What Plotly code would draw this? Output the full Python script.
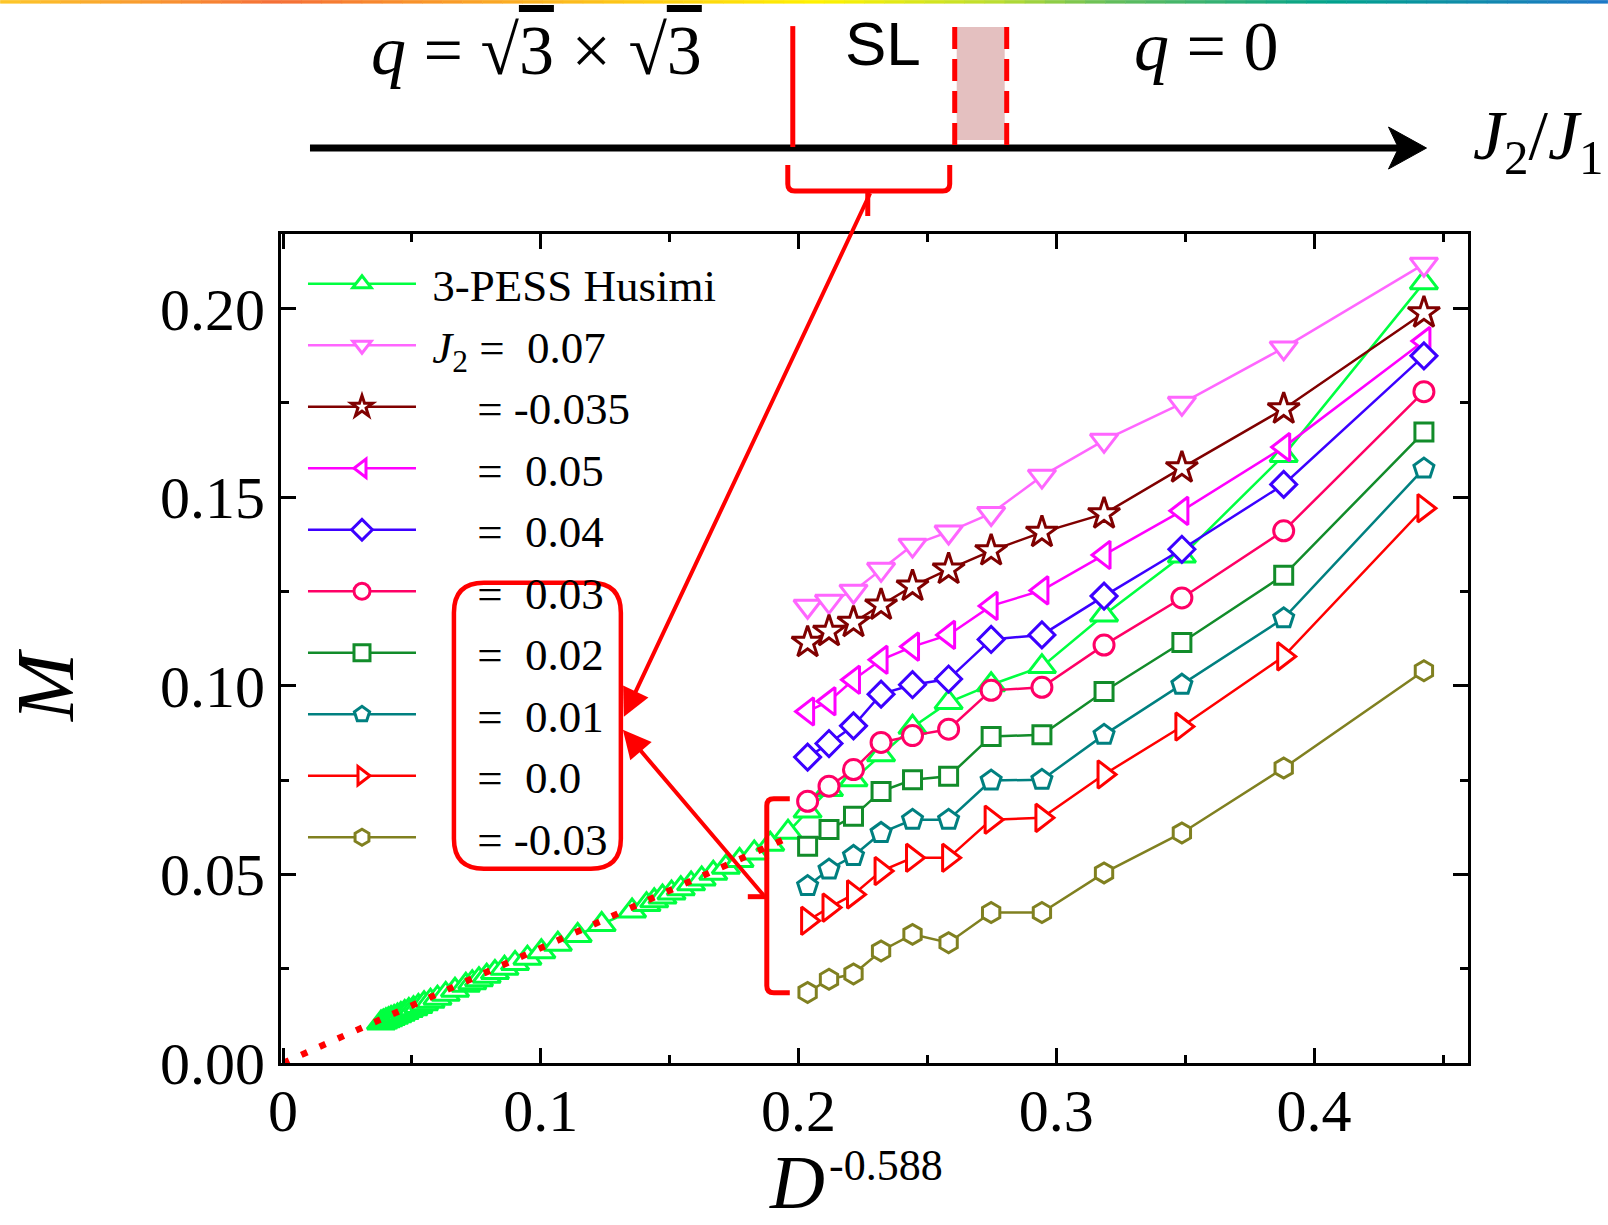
import plotly.graph_objects as go

# ---------------- data ----------------
x_right = [0.2035, 0.2118, 0.2213, 0.2320, 0.2442, 0.2582, 0.2747, 0.2944,
           0.3185, 0.3487, 0.3882, 0.4426]

x_husimi_left = [0.0380, 0.0389, 0.0399, 0.0409, 0.0419, 0.0431, 0.0444, 0.0457,
                 0.0472, 0.0488, 0.0506, 0.0525, 0.0547, 0.0572, 0.0599, 0.0631,
                 0.0667, 0.0709, 0.0734, 0.0760, 0.0790, 0.0822, 0.0859, 0.0900,
                 0.0948, 0.1002, 0.1066, 0.1143, 0.1236, 0.1354, 0.1410, 0.1440,
                 0.1472, 0.1507, 0.1543, 0.1583, 0.1624, 0.1669, 0.1718, 0.1771,
                 0.1828, 0.1890, 0.1959]
m_husimi_left = [0.0106, 0.0109, 0.0112, 0.0115, 0.0118, 0.0121, 0.0125, 0.0129,
                 0.0134, 0.0139, 0.0144, 0.0150, 0.0157, 0.0164, 0.0172, 0.0182,
                 0.0193, 0.0206, 0.0213, 0.0221, 0.0230, 0.0240, 0.0251, 0.0264,
                 0.0278, 0.0295, 0.0315, 0.0338, 0.0367, 0.0403, 0.0420, 0.0430,
                 0.0440, 0.0451, 0.0462, 0.0475, 0.0488, 0.0503, 0.0519, 0.0537,
                 0.0557, 0.0580, 0.0612]
m_husimi_right = [0.0668, 0.0725, 0.0751, 0.0817, 0.0890, 0.0956, 0.1003, 0.1051,
                  0.1188, 0.1344, 0.1611, 0.2069]

m_j2_p070 = [0.1211, 0.1224, 0.1251, 0.1309, 0.1373, 0.1408, 0.1457, 0.1556,
             0.1651, 0.1749, 0.1896, 0.2118]
m_j2_m035 = [0.1115, 0.1144, 0.1168, 0.1214, 0.1264, 0.1309, 0.1358, 0.1407,
             0.1456, 0.1578, 0.1734, 0.1989]
m_j2_p050 = [0.0932, 0.0959, 0.1016, 0.1069, 0.1104, 0.1135, 0.1212, 0.1253,
             0.1347, 0.1464, 0.1633, 0.1914]
m_j2_p040 = [0.0811, 0.0847, 0.0894, 0.0978, 0.1003, 0.1018, 0.1123, 0.1135,
             0.1238, 0.1362, 0.1534, 0.1875]
m_j2_p030 = [0.0694, 0.0734, 0.0778, 0.0850, 0.0868, 0.0885, 0.0988, 0.0996,
             0.1108, 0.1233, 0.1411, 0.1780]
m_j2_p020 = [0.0575, 0.0619, 0.0654, 0.0720, 0.0751, 0.0760, 0.0866, 0.0870,
             0.0985, 0.1115, 0.1293, 0.1673]
m_j2_p010 = [0.0469, 0.0513, 0.0549, 0.0610, 0.0645, 0.0645, 0.0749, 0.0751,
             0.0870, 0.1003, 0.1179, 0.1576]
m_j2_p000 = [0.0377, 0.0412, 0.0447, 0.0509, 0.0544, 0.0544, 0.0645, 0.0650,
             0.0765, 0.0892, 0.1078, 0.1471]
m_j2_m030 = [0.0187, 0.0222, 0.0236, 0.0297, 0.0341, 0.0319, 0.0399, 0.0399,
             0.0504, 0.0610, 0.0782, 0.1040]

fit_x = [0.0, 0.198]
fit_m = [0.0, 0.0604]

x_tick_vals = [0, 0.1, 0.2, 0.3, 0.4]
x_tick_text = ["0", "0.1", "0.2", "0.3", "0.4"]
y_tick_vals = [0.0, 0.05, 0.10, 0.15, 0.20]
y_tick_text = ["0.00", "0.05", "0.10", "0.15", "0.20"]

NB = "\u00a0"
series_names = [
    NB + "3-PESS Husimi",
    NB + "<i>J</i><sub>2</sub>" + NB + "=" + NB * 2 + "0.07",
    NB * 5 + "=" + NB + "-0.035",
    NB * 5 + "=" + NB * 2 + "0.05",
    NB * 5 + "=" + NB * 2 + "0.04",
    NB * 5 + "=" + NB * 2 + "0.03",
    NB * 5 + "=" + NB * 2 + "0.02",
    NB * 5 + "=" + NB * 2 + "0.01",
    NB * 5 + "=" + NB * 2 + "0.0",
    NB * 5 + "=" + NB + "-0.03",
]

# ---------------- figure ----------------
SERIF = "Liberation Serif"
PL, PR, PT, PB = 281.0, 1468.5, 234.0, 1063.4


def px(x):
    return (x - PL) / (PR - PL)


def py(y):
    return (PB - y) / (PB - PT)


def P(x, y):
    return f"{px(x):.5f},{py(y):.5f}"


fig = go.Figure()

specs = [
    (x_husimi_left + x_right, m_husimi_left + m_husimi_right, "#00FF40", "triangle-up", 24),
    (x_right, m_j2_p070, "#FF66FF", "triangle-down", 24),
    (x_right, m_j2_m035, "#800000", "star", 24),
    (x_right, m_j2_p050, "#FF00FF", "triangle-left", 24),
    (x_right, m_j2_p040, "#3C00FF", "diamond", 20),
    (x_right, m_j2_p030, "#FF0066", "circle", 20),
    (x_right, m_j2_p020, "#128C2A", "square", 18),
    (x_right, m_j2_p010, "#008080", "pentagon", 21),
    (x_right, m_j2_p000, "#FF0000", "triangle-right", 24),
    (x_right, m_j2_m030, "#808020", "hexagon", 20),
]

for (xs, ys, col, sym, size), name in zip(specs, series_names):
    fig.add_trace(go.Scatter(
        x=xs, y=ys, name=name, mode="lines+markers",
        line=dict(color=col, width=2.5),
        marker=dict(symbol=sym, size=size, color="white",
                    line=dict(color=col, width=3)),
    ))

fig.add_trace(go.Scatter(
    x=fit_x, y=fit_m, mode="lines", showlegend=False,
    line=dict(color="#FF0000", width=6.5, dash="6.5px,13.5px"),
))

axis_common = dict(
    showline=True, linewidth=3, linecolor="black", mirror="ticks",
    ticks="inside", ticklen=15, tickwidth=2.5, tickcolor="black",
    showgrid=False, zeroline=False,
    tickfont=dict(family=SERIF, size=60, color="black"),
)

fig.update_xaxes(range=[-0.0008, 0.4597], tickmode="array",
                 tickvals=x_tick_vals, ticktext=x_tick_text,
                 minor=dict(ticks="inside", ticklen=8, tickwidth=2.5,
                            tickcolor="black", tickmode="linear", tick0=0, dtick=0.05),
                 ticklabelstandoff=-7, **axis_common)
fig.update_yaxes(range=[0, 0.2198], tickmode="array",
                 tickvals=y_tick_vals, ticktext=y_tick_text,
                 minor=dict(ticks="inside", ticklen=8, tickwidth=2.5,
                            tickcolor="black", tickmode="linear", tick0=0, dtick=0.025),
                 ticklabelstandoff=1, **axis_common)

shapes = []
annotations = []

# rainbow strip at the very top
stops = [(0, (253, 200, 40)), (277, (245, 110, 55)), (560, (252, 185, 30)),
         (820, (255, 242, 0)), (1000, (185, 220, 50)), (1110, (100, 190, 90)),
         (1330, (0, 162, 140)), (1608, (30, 118, 200))]
nseg = 80
for i in range(nseg):
    xa = 1608 * i / nseg
    xb = 1608 * (i + 1) / nseg
    xm = 0.5 * (xa + xb)
    for (s0, c0), (s1, c1) in zip(stops[:-1], stops[1:]):
        if s0 <= xm <= s1:
            t = (xm - s0) / (s1 - s0)
            c = tuple(int(round(c0[k] + t * (c1[k] - c0[k]))) for k in range(3))
            break
    shapes.append(dict(type="rect", xref="paper", yref="paper",
                       x0=px(xa), x1=px(xb + 0.5), y0=py(0), y1=py(3.5),
                       fillcolor=f"rgb{c}", line=dict(width=0), layer="above"))

# phase-diagram strip
shapes.append(dict(type="rect", xref="paper", yref="paper",
                   x0=px(957), x1=px(1005), y0=py(140), y1=py(27),
                   fillcolor="rgb(228,192,192)", line=dict(width=0)))
shapes.append(dict(type="line", xref="paper", yref="paper",
                   x0=px(310), x1=px(1400), y0=py(148), y1=py(148),
                   line=dict(color="black", width=7)))
shapes.append(dict(type="path", xref="paper", yref="paper",
                   path=f"M{P(1427,148)} L{P(1389,127)} L{P(1399,148)} L{P(1389,169)} Z",
                   fillcolor="black", line=dict(color="black", width=1)))
shapes.append(dict(type="line", xref="paper", yref="paper",
                   x0=px(793), x1=px(793), y0=py(26), y1=py(147),
                   line=dict(color="#FF0000", width=5)))
for xv in (955, 1007):
    shapes.append(dict(type="line", xref="paper", yref="paper",
                       x0=px(xv), x1=px(xv), y0=py(27), y1=py(147),
                       line=dict(color="#FF0000", width=5, dash="22px,10px")))

# bracket under SL
shapes.append(dict(type="path", xref="paper", yref="paper",
                   path=(f"M{P(788,165)} L{P(788,184)} Q{P(788,191)} {P(795,191)} "
                         f"L{P(943,191)} Q{P(950,191)} {P(950,184)} L{P(950,165)}"),
                   line=dict(color="#FF0000", width=5)))
shapes.append(dict(type="line", xref="paper", yref="paper",
                   x0=px(868), x1=px(868), y0=py(191), y1=py(216),
                   line=dict(color="#FF0000", width=5)))

# bracket near D^-0.588 = 0.2
shapes.append(dict(type="path", xref="paper", yref="paper",
                   path=(f"M{P(790,799)} L{P(774,799)} Q{P(767,799)} {P(767,806)} "
                         f"L{P(767,986)} Q{P(767,993)} {P(774,993)} L{P(790,993)}"),
                   line=dict(color="#FF0000", width=5)))
shapes.append(dict(type="line", xref="paper", yref="paper",
                   x0=px(748), x1=px(767), y0=py(897), y1=py(897),
                   line=dict(color="#FF0000", width=5)))

# rounded box around legend values
x0b, x1b, y0b, y1b, r = 454, 621, 583, 869, 30
shapes.append(dict(type="path", xref="paper", yref="paper",
                   path=(f"M{P(x0b+r,y0b)} L{P(x1b-r,y0b)} Q{P(x1b,y0b)} {P(x1b,y0b+r)} "
                         f"L{P(x1b,y1b-r)} Q{P(x1b,y1b)} {P(x1b-r,y1b)} "
                         f"L{P(x0b+r,y1b)} Q{P(x0b,y1b)} {P(x0b,y1b-r)} "
                         f"L{P(x0b,y0b+r)} Q{P(x0b,y0b)} {P(x0b+r,y0b)} Z"),
                   line=dict(color="#FF0000", width=4.5)))

# arrows pointing to the box
for (tx, ty, sx, sy) in [(624, 717, 871, 192), (623, 730, 765, 897)]:
    annotations.append(dict(x=px(tx), y=py(ty), xref="paper", yref="paper",
                            ax=sx - tx, ay=sy - ty, axref="pixel", ayref="pixel",
                            text="", showarrow=True, arrowhead=2, arrowsize=1.4,
                            arrowwidth=4, arrowcolor="#FF0000", standoff=0))


def label(x, y, text, size, family=SERIF, xanchor="center", angle=0):
    annotations.append(dict(x=px(x), y=py(y), xref="paper", yref="paper",
                            xanchor=xanchor, yanchor="middle", text=text,
                            textangle=angle, showarrow=False,
                            font=dict(family=family, size=size, color="black")))


# texts of the top strip
over3 = "<span style='text-decoration:overline'>3</span>"
label(537, 50, "<i>q</i>" + NB + "=" + NB + "√" + over3 + NB + "×" + NB + "√" + over3, 70)
label(883, 43, "SL", 62, family="Liberation Sans")
label(1206, 46, "<i>q</i>" + NB + "=" + NB + "0", 70)
label(1607, 141, "<i>J</i><sub>2</sub>/<i>J</i><sub>1</sub>", 70, xanchor="right")

# axis titles
label(46, 685, "<i>M</i>", 82, angle=-90)
label(797, 1182, "<i>D</i>", 76)
label(886, 1166, "-0.588", 44)

fig.update_layout(
    width=1608, height=1225,
    margin=dict(l=PL, r=1608 - PR, t=PT, b=1225 - PB, pad=0),
    paper_bgcolor="white", plot_bgcolor="white",
    showlegend=True,
    legend=dict(x=px(303), y=py(248), xanchor="left", yanchor="top",
                bgcolor="rgba(0,0,0,0)", borderwidth=0,
                font=dict(family=SERIF, size=45, color="black"),
                itemwidth=108, traceorder="normal"),
    shapes=shapes, annotations=annotations,
)

fig.write_html("out.html")
